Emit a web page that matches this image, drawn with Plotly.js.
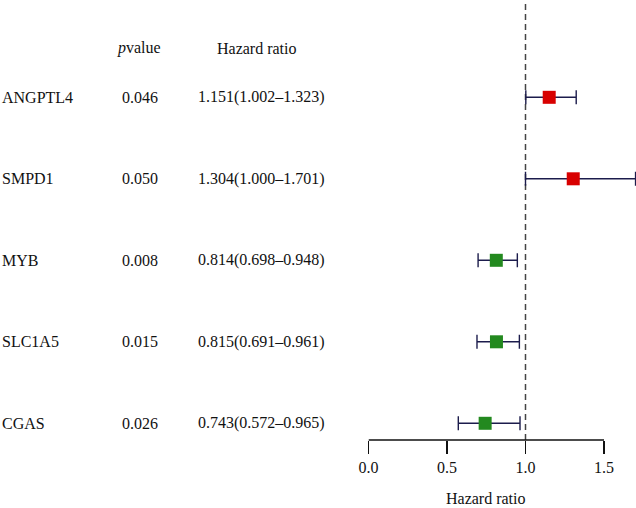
<!DOCTYPE html>
<html>
<head>
<meta charset="utf-8">
<script src="https://cdn.plot.ly/plotly-3.0.1.min.js"></script>
<style>html,body{margin:0;padding:0;background:#fff;}</style>
</head>
<body>
<div id="chart" style="width:636px;height:508px;"></div>
<script>
const genes = ["ANGPTL4", "SMPD1", "MYB", "SLC1A5", "CGAS"];
const pvalues = ["0.046", "0.050", "0.008", "0.015", "0.026"];
const hr = [1.151, 1.304, 0.814, 0.815, 0.743];
const lower = [1.002, 1.000, 0.698, 0.691, 0.572];
const upper = [1.323, 1.701, 0.948, 0.961, 0.965];
const tickVals = [0, 0.5, 1.0, 1.5];
const tickText = ["0.0", "0.5", "1.0", "1.5"];

const rowY = genes.map((g, i) => genes.length - i);
const colors = hr.map(v => v > 1 ? "#d80000" : "#23891f");
const FONT = "Liberation Serif, Times New Roman, serif";
const FS = 16;

const trace = {
  type: "scatter",
  mode: "markers",
  x: hr,
  y: rowY,
  marker: {symbol: "square", size: 13, color: colors, line: {width: 0}},
  error_x: {
    type: "data",
    symmetric: false,
    array: upper.map((u, i) => u - hr[i]),
    arrayminus: lower.map((l, i) => hr[i] - l),
    color: "#1c1c4c",
    thickness: 1.4,
    width: 7
  },
  cliponaxis: false,
  hoverinfo: "none",
  showlegend: false
};

const annotations = [];
const px = v => v / 636;
genes.forEach((g, i) => {
  annotations.push({xref: "paper", yref: "y", x: px(0), y: rowY[i], text: g, showarrow: false, xanchor: "left", yanchor: "middle", font: {family: FONT, size: FS, color: "#111"}});
  annotations.push({xref: "paper", yref: "y", x: px(139.5), y: rowY[i], text: pvalues[i], showarrow: false, xanchor: "center", yanchor: "middle", font: {family: FONT, size: FS, color: "#111"}});
  annotations.push({xref: "paper", yref: "y", x: px(261.5), y: rowY[i], text: hr[i].toFixed(3) + "(" + lower[i].toFixed(3) + "\u2013" + upper[i].toFixed(3) + ")", showarrow: false, xanchor: "center", yanchor: "middle", font: {family: FONT, size: FS, color: "#111"}});
});
annotations.push({xref: "paper", yref: "paper", x: px(138.5), y: (440 - 48) / 440, text: "<i>p</i>value", showarrow: false, xanchor: "center", yanchor: "middle", font: {family: FONT, size: FS, color: "#111"}});
annotations.push({xref: "paper", yref: "paper", x: px(256.5), y: (440 - 48) / 440, text: "Hazard ratio", showarrow: false, xanchor: "center", yanchor: "middle", font: {family: FONT, size: FS, color: "#111"}});
annotations.push({xref: "x", yref: "paper", x: 0.75, y: -(498 - 440) / 440, text: "Hazard ratio", showarrow: false, xanchor: "center", yanchor: "middle", font: {family: FONT, size: FS, color: "#111"}});

const layout = {
  width: 636,
  height: 508,
  margin: {l: 0, r: 0, t: 0, b: 68, pad: 0},
  paper_bgcolor: "#fff",
  plot_bgcolor: "#fff",
  xaxis: {
    domain: [368.5 / 636, 1],
    range: [0, (636 - 368.5) / 157],
    tickvals: tickVals,
    ticktext: tickText,
    ticks: "outside",
    ticklen: 13,
    tickwidth: 1.5,
    tickcolor: "#111",
    showgrid: false,
    zeroline: false,
    showline: false,
    tickfont: {family: FONT, size: FS, color: "#111"}
  },
  yaxis: {
    range: [0.795, 6.194],
    showticklabels: false,
    showgrid: false,
    zeroline: false,
    showline: false,
    ticks: ""
  },
  shapes: [
    {type: "line", xref: "x", yref: "paper", x0: 0, x1: 1.5, y0: 0, y1: 0, line: {color: "#111", width: 1.5}},
    {type: "line", xref: "x", yref: "paper", x0: 1, x1: 1, y0: 0, y1: 1, layer: "below", line: {color: "#444", width: 1.5, dash: "6px,4px"}}
  ],
  annotations: annotations
};

Plotly.newPlot("chart", [trace], layout, {displayModeBar: false, staticPlot: true});
</script>
</body>
</html>
